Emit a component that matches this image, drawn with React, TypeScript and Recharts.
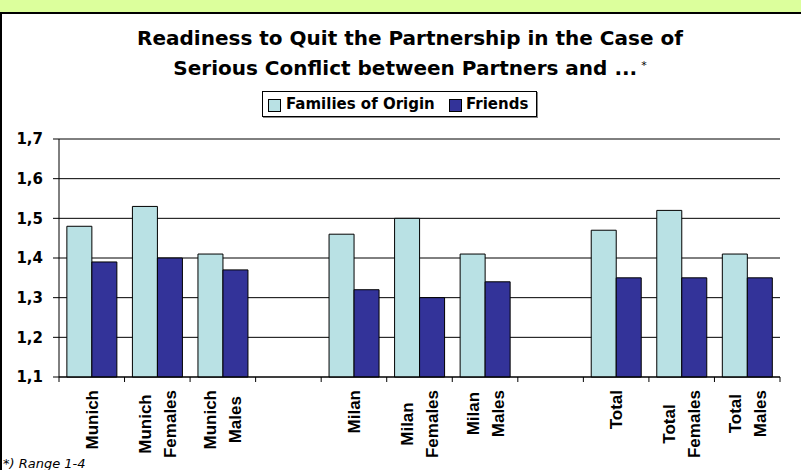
import React from "react";
import { BarChart, Bar, XAxis, YAxis, CartesianGrid } from "recharts";

const categories = [
  "Munich",
  "Munich\nFemales",
  "Munich\nMales",
  "",
  "Milan",
  "Milan\nFemales",
  "Milan\nMales",
  " ",
  "Total",
  "Total\nFemales",
  "Total\nMales",
];
const familiesOfOrigin = [1.48, 1.53, 1.41, null, 1.46, 1.5, 1.41, null, 1.47, 1.52, 1.41];
const friends = [1.39, 1.4, 1.37, null, 1.32, 1.3, 1.34, null, 1.35, 1.35, 1.35];
const yTicks = [1.1, 1.2, 1.3, 1.4, 1.5, 1.6, 1.7];
const seriesNames = ["Families of Origin", "Friends"];

const data = categories.map((name, i) => ({
  name,
  families: familiesOfOrigin[i],
  friends: friends[i],
}));

const LIGHT = "#b9e1e4";
const DARK = "#333399";
const LABEL_FONT = "bold 17px 'Liberation Sans', Arial, sans-serif";
const BOLD = "'DejaVu Sans', Verdana, sans-serif";

let ctx: CanvasRenderingContext2D | null = null;
function textWidth(s: string) {
  if (!ctx) ctx = document.createElement("canvas").getContext("2d");
  if (!ctx) return s.length * 9;
  ctx.font = LABEL_FONT;
  return ctx.measureText(s).width;
}

// category labels: rotated, lines centred on each other, top end near the axis
function CategoryTick(props: any) {
  const { x, y, payload, index, visibleTicksCount } = props;
  const half = payload.offset || (780 - 59) / categories.length / 2;
  const lines = String(payload.value)
    .split("\n")
    .filter((l) => l.trim());
  const longest = Math.max(0, ...lines.map(textWidth));
  const n = lines.length;
  return (
    <g>
      <line x1={x - half} x2={x - half} y1={y} y2={y + 5} stroke="#000" />
      {index === visibleTicksCount - 1 && (
        <line x1={x + half} x2={x + half} y1={y} y2={y + 5} stroke="#000" />
      )}
      <g transform={`translate(${x},${y + 13}) rotate(-90)`}>
        {lines.map((l, i) => (
          <text
            key={i}
            x={-longest / 2}
            y={(i - (n - 1) / 2) * 25 + 6}
            textAnchor="middle"
            fill="#000"
            style={{ font: LABEL_FONT }}
          >
            {l}
          </text>
        ))}
      </g>
    </g>
  );
}

function LegendBox() {
  const sq = (c: string, left: number) => (
    <div
      style={{
        position: "absolute",
        left,
        top: 7,
        width: 11,
        height: 11,
        background: c,
        border: "1px solid #000",
      }}
    />
  );
  const txt = (s: string, left: number) => (
    <div
      style={{
        position: "absolute",
        left,
        top: 3,
        fontFamily: BOLD,
        fontWeight: "bold",
        fontSize: 15,
        lineHeight: "18px",
        whiteSpace: "nowrap",
      }}
    >
      {s}
    </div>
  );
  return (
    <div
      style={{
        position: "absolute",
        left: 262,
        top: 91,
        width: 275,
        height: 26,
        border: "1px solid #000",
        boxShadow: "1px 1px 0 #888",
        background: "#fff",
        boxSizing: "border-box",
      }}
    >
      {sq(LIGHT, 5)}
      {txt(seriesNames[0], 23)}
      {sq(DARK, 186)}
      {txt(seriesNames[1], 203)}
    </div>
  );
}

export default function App() {
  return (
    <div
      style={{
        position: "absolute",
        left: 0,
        top: 0,
        width: 801,
        height: 470,
        background: "#dcff9c",
        overflow: "hidden",
      }}
    >
      <div
        style={{
          position: "absolute",
          left: 0,
          top: 12,
          width: 801,
          height: 458,
          background: "#fff",
          borderTop: "2px solid #000",
          borderLeft: "2px solid #000",
          boxSizing: "border-box",
        }}
      />
      <div style={{ position: "absolute", left: 0, top: 0 }}>
        <BarChart
          width={801}
          height={470}
          data={data}
          margin={{ top: 139, right: 21, bottom: 0, left: 0 }}
          barCategoryGap="12%"
          barGap={0}
        >
          <CartesianGrid vertical={false} stroke="#000" />
          <XAxis
            dataKey="name"
            height={93}
            interval={0}
            tickLine={false}
            tickSize={0}
            tickMargin={0}
            axisLine={{ stroke: "#000" }}
            tick={<CategoryTick />}
          />
          <YAxis
            width={59}
            domain={[1.1, 1.7]}
            ticks={yTicks}
            interval={0}
            tickSize={6}
            tickMargin={10}
            tickLine={{ stroke: "#000" }}
            axisLine={{ stroke: "#000" }}
            tickFormatter={(v: number) => v.toFixed(1).replace(".", ",")}
            tick={{ fill: "#000", fontSize: 15, fontWeight: "bold", fontFamily: BOLD }}
          />
          <YAxis
            yAxisId="r"
            orientation="right"
            width={0}
            domain={[1.1, 1.7]}
            tick={false}
            tickLine={false}
            axisLine={{ stroke: "#000" }}
          />
          <Bar
            dataKey="families"
            name={seriesNames[0]}
            fill={LIGHT}
            stroke="#000"
            strokeWidth={1}
            isAnimationActive={false}
          />
          <Bar
            dataKey="friends"
            name={seriesNames[1]}
            fill={DARK}
            stroke="#000"
            strokeWidth={1}
            isAnimationActive={false}
          />
        </BarChart>
      </div>
      <div
        style={{
          position: "absolute",
          left: 10,
          top: 25,
          width: 800,
          textAlign: "center",
          fontFamily: BOLD,
          fontWeight: "bold",
          fontSize: 20,
          lineHeight: "27px",
          color: "#000",
        }}
      >
        Readiness to Quit the Partnership in the Case of
        <br />
        Serious Conflict between Partners and ...
        <span style={{ fontSize: 11, fontWeight: "normal", verticalAlign: 6, marginLeft: 4 }}>*</span>
      </div>
      <LegendBox />
      <div
        style={{
          position: "absolute",
          left: 3,
          top: 457,
          fontFamily: BOLD,
          fontStyle: "italic",
          fontSize: 13,
          lineHeight: "13px",
          whiteSpace: "nowrap",
          color: "#000",
        }}
      >
        *) Range 1-4
      </div>
    </div>
  );
}
